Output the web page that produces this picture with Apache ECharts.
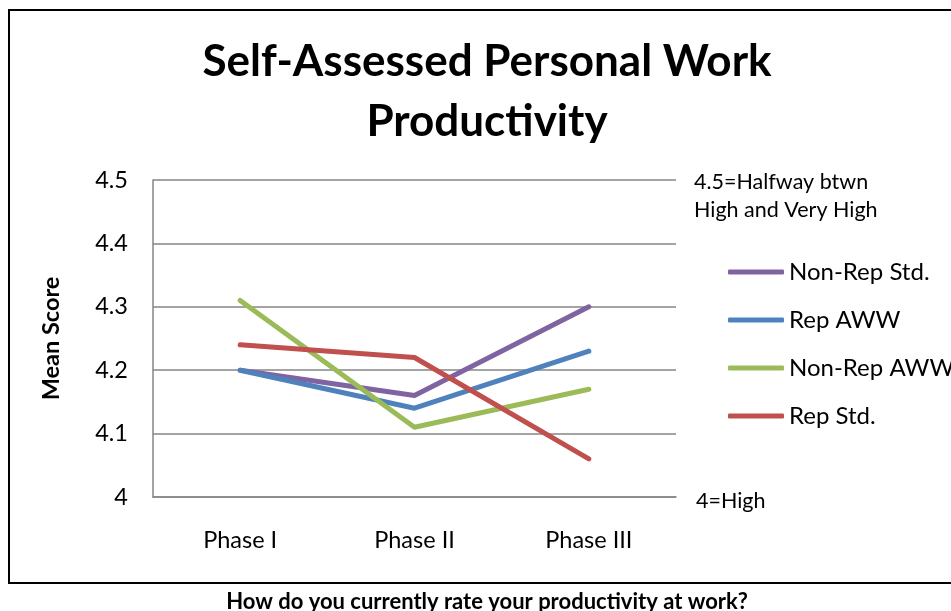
<!DOCTYPE html>
<html>
<head>
<meta charset="utf-8">
<script src="https://cdn.jsdelivr.net/npm/echarts@6/dist/echarts.min.js"></script>
<style>
  html, body { margin: 0; padding: 0; background: #fff; }
  #chart { width: 951px; height: 611px; }
</style>
</head>
<body>
<div id="chart"></div>
<script>
const phases = ['Phase I', 'Phase II', 'Phase III']
const nonRepStd = [4.2, 4.16, 4.3]
const repAww = [4.2, 4.14, 4.23]
const nonRepAww = [4.31, 4.11, 4.17]
const repStd = [4.24, 4.22, 4.06]

const seriesNames = ['Non-Rep Std.', 'Rep AWW', 'Non-Rep AWW', 'Rep Std.']
const seriesColors = ['#8064A2', '#4F81BD', '#9BBB59', '#C0504D']
const seriesData = [nonRepStd, repAww, nonRepAww, repStd]

const font = 'Lato, "Open Sans", sans-serif'

const chart = echarts.init(document.getElementById('chart'))

chart.setOption({
  animation: false,
  textStyle: { fontFamily: font },
  color: seriesColors,
  grid: {
    left: 153,
    right: 275,
    top: 180,
    bottom: 114
  },
  legend: {
    orient: 'vertical',
    left: 723,
    top: 253,
    icon: 'roundRect',
    itemWidth: 56,
    itemHeight: 5,
    itemGap: 20,
    textStyle: {
      fontFamily: font,
      fontSize: 24,
      lineHeight: 28,
      color: '#000'
    },
    data: seriesNames
  },
  xAxis: {
    type: 'category',
    data: phases,
    boundaryGap: true,
    axisLine: { lineStyle: { color: '#868686', width: 1.5 } },
    axisTick: { show: false },
    axisLabel: { color: '#000', fontSize: 23.5, margin: 31, fontFamily: font }
  },
  yAxis: {
    type: 'value',
    min: 4,
    max: 4.5,
    interval: 0.1,
    name: 'Mean Score',
    nameLocation: 'middle',
    nameGap: 90,
    nameTextStyle: { fontSize: 23.5, fontWeight: 'bold', color: '#000', fontFamily: font },
    axisLine: { show: true, lineStyle: { color: '#868686', width: 1.5 } },
    axisTick: { show: false },
    axisLabel: {
      color: '#000',
      fontSize: 23.5,
      margin: 25,
      fontFamily: font,
      formatter: v => String(Math.round(v * 10) / 10)
    },
    splitLine: { lineStyle: { color: '#868686', width: 1.5 } }
  },
  series: seriesNames.map((name, i) => ({
    name: name,
    type: 'line',
    data: seriesData[i],
    symbol: 'none',
    lineStyle: { width: 5, color: seriesColors[i], cap: 'round', join: 'round' },
    itemStyle: { color: seriesColors[i] }
  })),
  graphic: [
    {
      type: 'rect',
      shape: { x: 9, y: 10, width: 960, height: 573 },
      style: { fill: null, stroke: '#000', lineWidth: 2 },
      z: -1
    },
    {
      type: 'text',
      x: 487,
      y: 32,
      style: {
        text: 'Self-Assessed Personal Work\nProductivity',
        textAlign: 'center',
        font: 'bold 44px ' + font,
        lineHeight: 60,
        fill: '#000'
      }
    },
    {
      type: 'text',
      x: 694,
      y: 168,
      style: {
        text: '4.5=Halfway btwn\nHigh and Very High',
        font: '21.5px ' + font,
        lineHeight: 28,
        fill: '#000'
      }
    },
    {
      type: 'text',
      x: 696,
      y: 490,
      style: { text: '4=High', font: '21.5px ' + font, fill: '#000' }
    },
    {
      type: 'text',
      x: 487,
      y: 591,
      style: {
        text: 'How do you currently rate your productivity at work?',
        textAlign: 'center',
        font: 'bold 22px ' + font,
        fill: '#000'
      }
    }
  ]
})
</script>
</body>
</html>
